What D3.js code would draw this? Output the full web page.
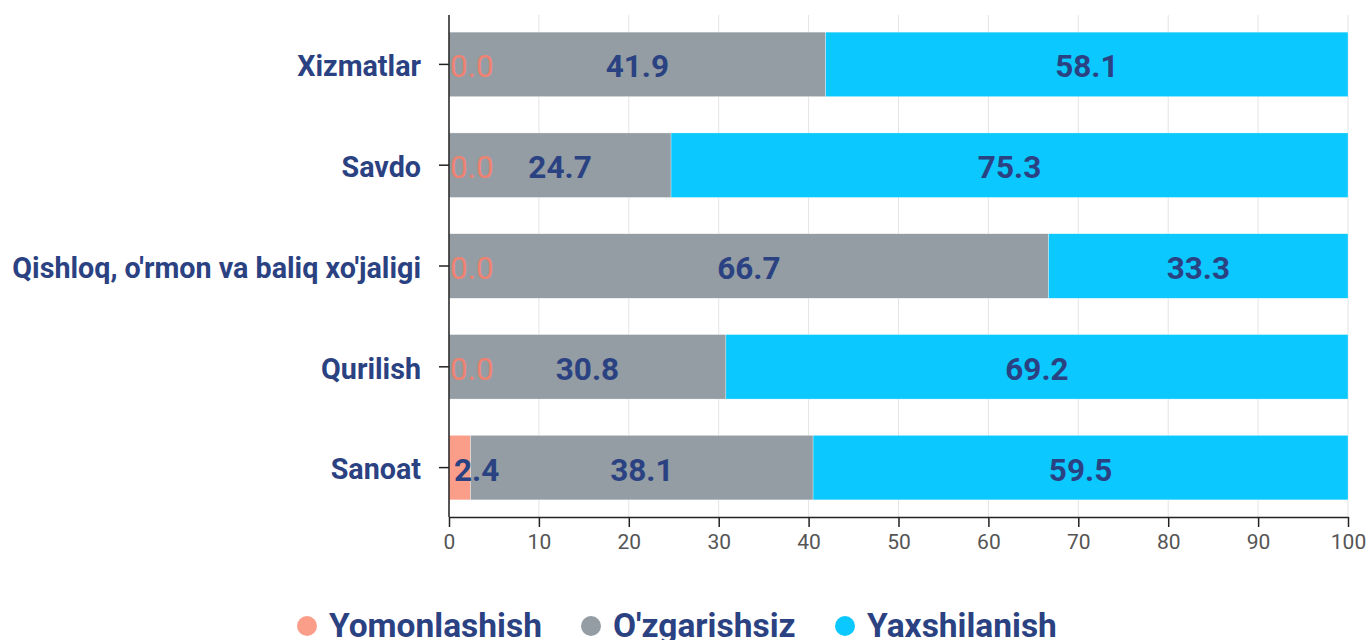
<!DOCTYPE html>
<html><head><meta charset="utf-8">
<script src="https://cdn.jsdelivr.net/npm/d3@7"></script>
<style>
body{margin:0;background:#fff;}
svg text{font-family:"Roboto",sans-serif;}
svg .cond{font-family:"Roboto Condensed","Roboto",sans-serif;}
</style></head>
<body><svg id="c" width="1368" height="640"></svg>
<script>
const categories = ["Xizmatlar","Savdo","Qishloq, o'rmon va baliq xo'jaligi","Qurilish","Sanoat"];
const seriesNames = ["Yomonlashish","O'zgarishsiz","Yaxshilanish"];
const yomonlashish = [0.0, 0.0, 0.0, 0.0, 2.4];
const ozgarishsiz = [41.9, 24.7, 66.7, 30.8, 38.1];
const yaxshilanish = [58.1, 75.3, 33.3, 69.2, 59.5];
const xTicks = [0,10,20,30,40,50,60,70,80,90,100];
const colors = ["#FA9E8A","#939DA3","#0BC8FF"];

const svg = d3.select("#c");
const mL = 449, mR = 1348, mT = 15, mB = 517;
const x = d3.scaleLinear().domain([0,100]).range([mL,mR]);
const y = d3.scaleBand().domain(categories).range([mT,mB]).paddingInner(0.36).paddingOuter(0.17);

svg.append("g").selectAll("line").data(xTicks).join("line")
  .attr("x1",d=>x(d)).attr("x2",d=>x(d)).attr("y1",mT).attr("y2",mB)
  .attr("stroke","#e4e4e4").attr("stroke-width",1);

const rows = categories.map((c,i)=>({cat:c, vals:[yomonlashish[i],ozgarishsiz[i],yaxshilanish[i]]}));
const segs = [];
rows.forEach(r=>{let acc=0; r.vals.forEach((v,k)=>{segs.push({cat:r.cat,k,v,x0:acc,x1:acc+v}); acc+=v;});});

svg.append("g").selectAll("rect").data(segs).join("rect")
  .attr("x",d=>x(d.x0)).attr("width",d=>x(d.x1)-x(d.x0))
  .attr("y",d=>y(d.cat)).attr("height",y.bandwidth())
  .attr("fill",d=>colors[d.k]).attr("stroke","#fff").attr("stroke-width",0.5).attr("stroke-opacity",0.6);

const lab = svg.append("g").selectAll("text").data(segs).join("text")
  .attr("y",d=>y(d.cat)+y.bandwidth()/2)
  .attr("dy","0.41em")
  .attr("font-size",31.5)
  .attr("font-weight",d=>d.v===0?400:700)
  .attr("fill",d=>d.v===0?"#F08272":"#2B4282")
  .attr("text-anchor","middle")
  .text(d=>d.v.toFixed(1));
lab.each(function(d){
  const w=this.getComputedTextLength();
  let cx=(x(d.x0)+x(d.x1))/2;
  const pad = d.v===0 ? 1 : 5;
  if(cx-w/2<mL+pad) cx=mL+pad+w/2;
  d3.select(this).attr("x",cx);
});

const ya = svg.append("g").attr("transform",`translate(${mL},0)`)
  .call(d3.axisLeft(y).tickSize(10).tickSizeOuter(0));
ya.select(".domain").attr("stroke","#222").attr("stroke-width",1.5).attr("d",`M0,${mT}V${mB}`);
ya.selectAll(".tick line").attr("stroke","#222").attr("stroke-width",1.5);
ya.selectAll(".tick text").attr("font-size",28.7).attr("font-weight",700).attr("fill","#2B4282").attr("x",-28).attr("dy","0.41em");

const xa = svg.append("g").attr("class","cond").attr("transform",`translate(0,${mB})`)
  .call(d3.axisBottom(x).tickValues(xTicks).tickSize(10).tickSizeOuter(0));
xa.select(".domain").attr("stroke","#222").attr("stroke-width",1.5);
xa.selectAll(".tick line").attr("stroke","#222").attr("stroke-width",1.5);
xa.selectAll(".tick text").attr("font-size",21).attr("fill","#555").attr("y",17);

const legX = [307, 591, 845];
const lg = svg.append("g").selectAll("g").data(seriesNames).join("g")
  .attr("transform",(d,i)=>`translate(${legX[i]},626)`);
lg.append("circle").attr("r",10).attr("fill",(d,i)=>colors[i]);
lg.append("text").attr("x",22).attr("dy","0.32em").attr("font-size",33.5).attr("font-weight",700)
  .attr("fill","#2B4282").text(d=>d);
</script></body></html>
